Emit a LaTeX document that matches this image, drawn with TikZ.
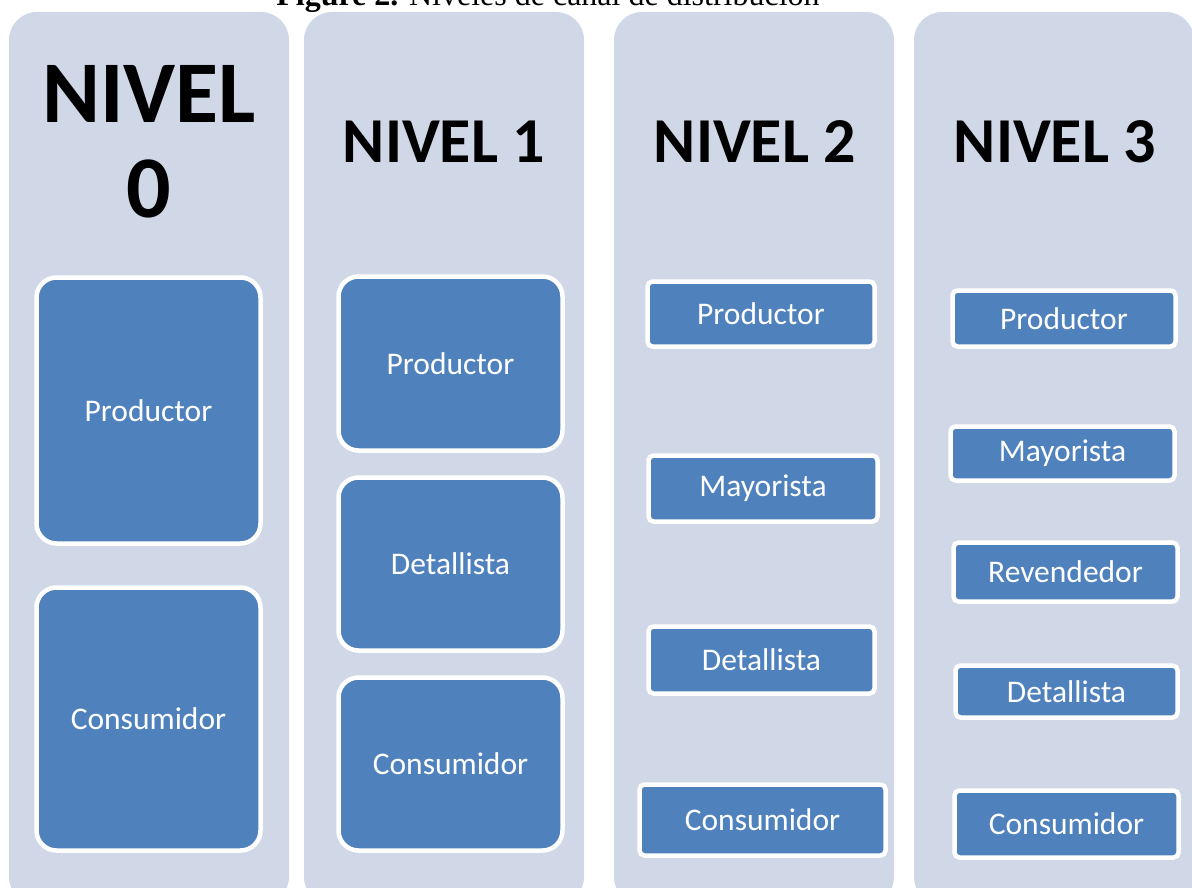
\documentclass[tikz,border=0pt]{standalone}
\usepackage{fontspec}
\setmainfont{Carlito}
\newfontfamily\capfont{Liberation Serif}
\usetikzlibrary{positioning}
\definecolor{PanelGray}{HTML}{D0D8E8}
\definecolor{OffBlue}{HTML}{4F81BD}
\tikzset{
    panel/.style={fill=PanelGray, rounded corners=28pt},
    nivel/.style={font=\bfseries\fontsize{64}{64}\selectfont, align=center},
    etapa/.style={draw=white, line width=4.5pt, fill=OffBlue, text=white,
        font=\fontsize{31.5}{31.5}\selectfont, inner sep=0pt},
    etapa grande/.style={etapa, rounded corners=20pt},
    etapa chica/.style={etapa, rounded corners=5pt},
}
\begin{document}
\begin{tikzpicture}[x=1pt, y=-1pt]
\useasboundingbox (0,0) rectangle (1192,888);
\begin{scope}
\clip (0,0) rectangle (1192,888);
\node[anchor=base, font=\capfont\fontsize{32}{32}\selectfont] (caption) at (548,6)
    {\textbf{Figure 2.} Niveles de canal de distribución};

\fill[panel] (9,12) rectangle (289,905);
\fill[panel] (304,12) rectangle (584,905);
\fill[panel] (614,12) rectangle (894,905);
\fill[panel] (914,12) rectangle (1194,905);
\end{scope}

% nivel 0
\node[nivel, font=\bfseries\fontsize{88}{95}\selectfont] (n0) at (149,142) {NIVEL\\0};
\node[etapa grande, minimum width=224pt, minimum height=266pt] (n0-prod) at (148.5,410.5) {Productor};
\node[etapa grande, minimum width=224pt, minimum height=263pt] (n0-cons) at (148.5,719) {Consumidor};

% nivel 1
\node[nivel] (n1) at (444,142) {NIVEL 1};
\node[etapa grande, minimum width=224pt, minimum height=174pt] (n1-prod) at (450.5,363.5) {Productor};
\node[etapa grande, minimum width=224pt, minimum height=173pt] (n1-det) at (450.5,564) {Detallista};
\node[etapa grande, minimum width=224pt, minimum height=173pt] (n1-cons) at (450.5,764) {Consumidor};

% nivel 2
\node[nivel] (n2) at (755,142) {NIVEL 2};
\node[etapa chica, minimum width=227pt, minimum height=65pt] (n2-prod) at (761,314) {Productor};
\node[etapa chica, minimum width=229pt, minimum height=66pt] (n2-may) at (763,488.5) {Mayorista};
\node[etapa chica, minimum width=226pt, minimum height=67pt] (n2-det) at (761.5,660) {Detallista};
\node[etapa chica, minimum width=246pt, minimum height=71pt] (n2-cons) at (762.5,820) {Consumidor};

% nivel 3
\node[nivel] (n3) at (1055,142) {NIVEL 3};
\node[etapa chica, minimum width=223pt, minimum height=56pt] (n3-prod) at (1064,318.5) {Productor};
\node[etapa chica, minimum width=224pt, minimum height=54pt] (n3-may) at (1062.5,453.5) {Mayorista};
\node[etapa chica, minimum width=224pt, minimum height=59pt] (n3-rev) at (1065.5,572) {Revendedor};
\node[etapa chica, minimum width=222pt, minimum height=52pt] (n3-det) at (1066.5,691.5) {Detallista};
\node[etapa chica, minimum width=224pt, minimum height=67pt] (n3-cons) at (1066.5,824) {Consumidor};
\end{tikzpicture}
\end{document}
